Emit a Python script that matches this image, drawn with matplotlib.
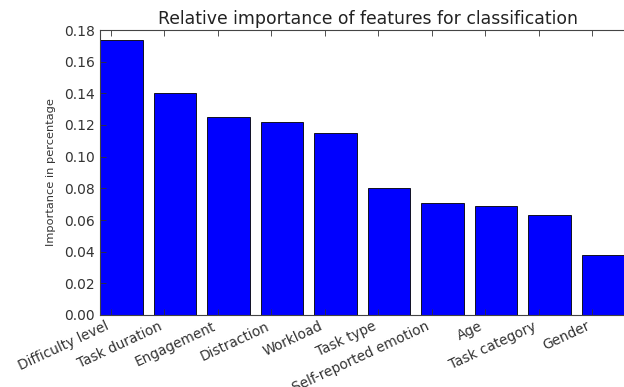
import matplotlib
matplotlib.use("Agg")
import matplotlib.pyplot as plt
import numpy as np

features = ["Difficulty level", "Task duration", "Engagement", "Distraction", "Workload",
            "Task type", "Self-reported emotion", "Age", "Task category", "Gender"]
importance = [0.174, 0.140, 0.125, 0.122, 0.115, 0.080, 0.071, 0.069, 0.063, 0.038]
yticks = [0.00, 0.02, 0.04, 0.06, 0.08, 0.10, 0.12, 0.14, 0.16, 0.18]

fig = plt.figure(figsize=(6.24, 3.87), dpi=100)
# axes extends a little beyond the right edge of the figure (cropped like the reference)
ax = fig.add_axes([100/624, (387-315)/387, 535/624, 285/387])

x = np.arange(len(features))
ax.bar(x, importance, width=0.8, align='edge', color='#0000ff', edgecolor='black', linewidth=0.6)
ax.set_xlim(0, 10)
ax.set_ylim(0, 0.18)
ax.set_yticks(yticks)
ax.set_yticklabels([f"{v:.2f}" for v in yticks])
ax.set_xticks(x + 0.2)
ax.set_xticklabels(features, rotation=25, ha='right', rotation_mode='default', fontsize=9.8)
ax.tick_params(axis='both', direction='in', top=True, right=True, length=4, width=0.6)
ax.tick_params(axis='y', labelsize=10, colors='#333333')
ax.tick_params(axis='x', pad=3, colors='#333333')
ax.set_ylabel("Importance in percentage", fontsize=8.2, labelpad=6, color='#333333')
ax.set_title("Relative importance of features for classification", fontsize=12.4, pad=4, color='#222222')
for s in ax.spines.values():
    s.set_linewidth(0.8)
    s.set_edgecolor('#444444')

fig.savefig("out.png", dpi=100)
